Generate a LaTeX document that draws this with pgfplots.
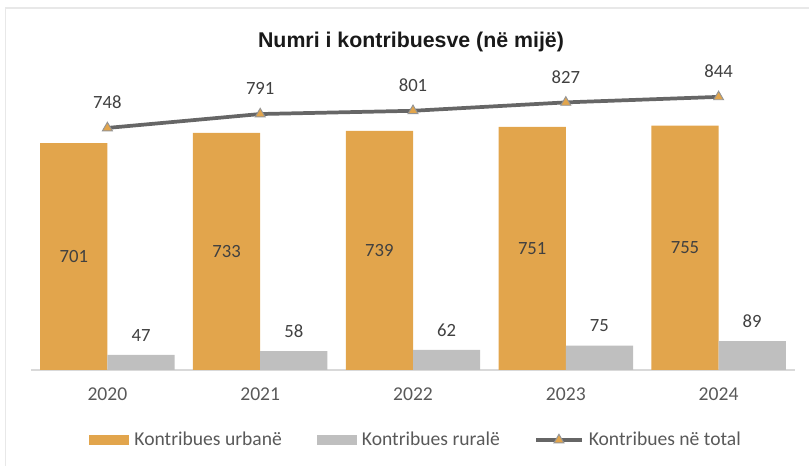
\documentclass[border=0pt]{standalone}
\usepackage{pgfplots}
\pgfplotsset{compat=1.18}
\usepackage{fontspec}
\setmainfont{Carlito}
\newfontfamily\titlefont{Liberation Sans}
\definecolor{myorange}{HTML}{E2A54C}
\definecolor{mygray}{HTML}{BFBFBF}
\definecolor{linegray}{HTML}{666666}
\definecolor{ticktext}{HTML}{595959}
\definecolor{labtext}{HTML}{404040}
\begin{document}
\begin{tikzpicture}[x=1pt,y=1pt]
\useasboundingbox (0,0) rectangle (606.75,349.5);
\draw[gray!18, line width=1.2pt] (4,0) -- (4,343.5) -- (606.75,343.5);
\node[font=\titlefont\bfseries\fontsize{16}{19}\selectfont, text=black!90] at (308.25,318) {Numri i kontribuesve (në mijë)};
\begin{axis}[
  at={(23.25pt,72pt)}, anchor=south west,
  scale only axis, width=573pt, height=232.5pt,
  xmin=-0.5, xmax=4.5, ymin=0, ymax=958,
  clip=false,
  axis x line*=bottom, axis y line=none,
  x axis line style={draw=black!15, line width=1.1pt, -},
  xtick={0,1,2,3,4}, xticklabels={2020,2021,2022,2023,2024},
  xtick style={draw=none},
  ytick=\empty,
  /pgf/number format/assume math mode=true,
  xticklabel style={font=\fontsize{14.7}{17}\selectfont, text=ticktext, inner sep=0pt, anchor=north, yshift=-13.5pt},
  legend style={at={(0.5026,-0.2258)}, anchor=center, draw=none, fill=none,
    legend columns=3, font=\fontsize{14.7}{17}\selectfont, text=ticktext,
    nodes={inner sep=0pt},
    /tikz/every odd column/.append style={column sep=4pt},
    /tikz/every even column/.append style={column sep=26pt}},
]
\addplot[ybar, bar width=0.44, bar shift=-0.22, fill=myorange, draw=none,
  nodes near coords,
  visualization depends on={rawy \as \rawy},
  every node near coord/.append style={anchor=center, inner sep=0pt, text=labtext,
     font=\fontsize{14}{17}\selectfont, xshift=-25.2pt, shift={(axis direction cs:0,-\rawy/2)}},
  legend image code/.code={\fill[myorange] (0pt,-4pt) rectangle (30pt,4pt);}]
  coordinates {(0,701) (1,733) (2,739) (3,751) (4,755)};
\addlegendentry{Kontribues urbanë}
\addplot[ybar, bar width=0.44, bar shift=0.22, fill=mygray, draw=none,
  nodes near coords,
  every node near coord/.append style={anchor=south, inner sep=0pt, text=labtext,
     font=\fontsize{14}{17}\selectfont, xshift=25.2pt, yshift=10pt},
  legend image code/.code={\fill[mygray] (0pt,-4pt) rectangle (30pt,4pt);}]
  coordinates {(0,47) (1,58) (2,62) (3,75) (4,89)};
\addlegendentry{Kontribues ruralë}
\addplot[draw=linegray, line width=2.8pt, mark=triangle*, mark size=4.3pt,
  mark options={fill=myorange, draw=linegray!70, line width=0.7pt},
  nodes near coords,
  every node near coord/.append style={anchor=south, inner sep=0pt, text=labtext,
     font=\fontsize{14}{17}\selectfont, yshift=14pt},
  legend image code/.code={\draw[linegray, line width=2.8pt] (0pt,0pt) -- (34pt,0pt);
    \path plot[mark=triangle*, mark size=4.3pt, mark options={fill=myorange, draw=linegray!70, line width=0.7pt}] coordinates {(17pt,0pt)};}]
  coordinates {(0,748) (1,791) (2,801) (3,827) (4,844)};
\addlegendentry{Kontribues në total}
\end{axis}
\end{tikzpicture}
\end{document}
